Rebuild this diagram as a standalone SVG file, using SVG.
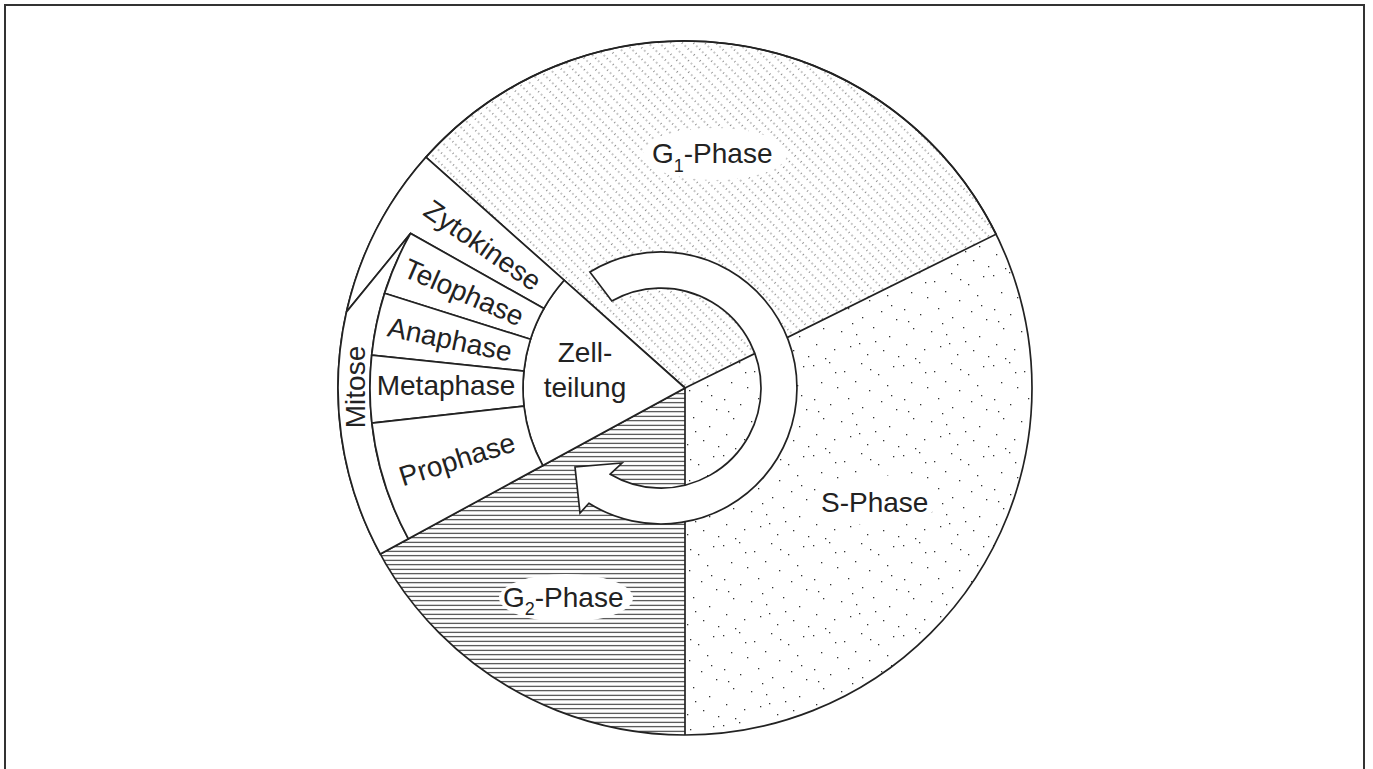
<svg xmlns="http://www.w3.org/2000/svg" width="1373" height="769" viewBox="0 0 1373 769">
<style>
.ln{fill:none;stroke:#222;stroke-width:1.7;stroke-linejoin:miter}
.wf{fill:#fff;stroke:#222;stroke-width:1.7}
.lbl{font-family:"Liberation Sans",Arial,sans-serif;font-size:28px;fill:#222}
.sub{font-size:18px}
.bg{fill:#fff;stroke:none}
</style>
<defs>
<pattern id="pG1" patternUnits="userSpaceOnUse" width="8" height="8.4" patternTransform="rotate(-45)">
<line x1="4" y1="0" x2="4" y2="8.4" stroke="#333" stroke-width="1.1" stroke-dasharray="1 3.2"/>
</pattern>
<pattern id="pG2" patternUnits="userSpaceOnUse" width="10" height="4.5">
<line x1="0" y1="2.25" x2="10" y2="2.25" stroke="#222" stroke-width="1"/>
</pattern>
<pattern id="pS" patternUnits="userSpaceOnUse" width="90" height="90">
<g fill="#333">
<rect x="3" y="5" width="1.3" height="1.3"/><rect x="19" y="2" width="1.3" height="1.3"/>
<rect x="34" y="11" width="1.3" height="1.3"/><rect x="51" y="3" width="1.3" height="1.3"/>
<rect x="68" y="14" width="1.3" height="1.3"/><rect x="83" y="6" width="1.3" height="1.3"/>
<rect x="11" y="22" width="1.3" height="1.3"/><rect x="27" y="27" width="1.3" height="1.3"/>
<rect x="45" y="21" width="1.3" height="1.3"/><rect x="59" y="30" width="1.3" height="1.3"/>
<rect x="77" y="25" width="1.3" height="1.3"/><rect x="4" y="39" width="1.3" height="1.3"/>
<rect x="20" y="44" width="1.3" height="1.3"/><rect x="38" y="38" width="1.3" height="1.3"/>
<rect x="52" y="47" width="1.3" height="1.3"/><rect x="71" y="41" width="1.3" height="1.3"/>
<rect x="86" y="49" width="1.3" height="1.3"/><rect x="13" y="58" width="1.3" height="1.3"/>
<rect x="31" y="61" width="1.3" height="1.3"/><rect x="46" y="64" width="1.3" height="1.3"/>
<rect x="63" y="57" width="1.3" height="1.3"/><rect x="79" y="66" width="1.3" height="1.3"/>
<rect x="6" y="74" width="1.3" height="1.3"/><rect x="24" y="79" width="1.3" height="1.3"/>
<rect x="40" y="76" width="1.3" height="1.3"/><rect x="57" y="84" width="1.3" height="1.3"/>
<rect x="73" y="80" width="1.3" height="1.3"/><rect x="88" y="86" width="1.3" height="1.3"/>
<rect x="15" y="88" width="1.3" height="1.3"/><rect x="49" y="73" width="1.3" height="1.3"/>
<rect x="65" y="71" width="1.3" height="1.3"/><rect x="8" y="51" width="1.3" height="1.3"/>
<rect x="42" y="53" width="1.3" height="1.3"/><rect x="81" y="35" width="1.3" height="1.3"/>
<rect x="25" y="12" width="1.3" height="1.3"/><rect x="60" y="9" width="1.3" height="1.3"/>
</g>
</pattern>
</defs>
<rect x="0" y="0" width="1373" height="769" fill="#fff"/>
<rect x="5" y="5" width="1359" height="800" fill="none" stroke="#333" stroke-width="2"/>

<g id="nodes">
<g id="g1-phase">
<path d="M685 388 L425.9 157.2 A347 347 0 0 1 996.1 234.2 Z" fill="url(#pG1)"/>
<ellipse class="bg" cx="715" cy="154" rx="72" ry="26"/>
</g>
<g id="s-phase">
<path d="M685 388 L996.1 234.2 A347 347 0 0 1 685 735 Z" fill="url(#pS)"/>
<ellipse class="bg" cx="876" cy="500" rx="64" ry="25"/>
</g>
<g id="g2-phase">
<path d="M685 388 L685 735 A347 347 0 0 1 380.3 554.1 Z" fill="url(#pG2)"/>
<ellipse class="bg" cx="566" cy="598" rx="67" ry="24"/>
</g>
<g id="outlines">
<path class="ln" d="M685 388 L425.9 157.2 A347 347 0 0 1 996.1 234.2 Z"/>
<path class="ln" d="M685 388 L685 735"/>
<path class="ln" d="M685 388 L380.3 554.1"/>
<circle class="ln" cx="685" cy="388" r="347" stroke-width="2.2"/>
</g>
<g id="zellteilung">
<path class="wf" d="M685 388 L564.1 280.2 A162 162 0 0 0 542.8 465.6 Z"/>
<text class="lbl" x="585" y="362" text-anchor="middle">Zell-</text>
<text class="lbl" x="585" y="397" text-anchor="middle">teilung</text>
</g>
<g id="zytokinese">
<path class="wf" d="M564.1 280.2 L425.9 157.2 A347 347 0 0 0 346.5 311.9 L410.6 233.4 L543.9 308.5 A162 162 0 0 1 564.1 280.2 Z"/>
<text class="lbl" text-anchor="middle" transform="translate(483,245) rotate(35)" y="10">Zytokinese</text>
</g>
<g id="mitose">
<path class="wf" d="M410.6 233.4 L346.5 311.9 A347 347 0 0 0 380.3 554.1 L408.4 538.8 A315 315 0 0 1 410.6 233.4 Z"/>
<text class="lbl" text-anchor="middle" transform="translate(355,387) rotate(-90)" y="10">Mitose</text>
</g>
<g id="telophase">
<path class="wf" d="M543.9 308.5 L410.6 233.4 A315 315 0 0 0 384.6 293.3 L530.5 339.3 A162 162 0 0 1 543.9 308.5 Z"/>
<text class="lbl" text-anchor="middle" transform="translate(464,292) rotate(23.5)" y="10">Telophase</text>
</g>
<g id="anaphase">
<path class="wf" d="M530.5 339.3 L384.6 293.3 A315 315 0 0 0 371.7 355.1 L523.9 371.1 A162 162 0 0 1 530.5 339.3 Z"/>
<text class="lbl" text-anchor="middle" transform="translate(450,339) rotate(11.75)" y="10">Anaphase</text>
</g>
<g id="metaphase">
<path class="wf" d="M523.9 371.1 L371.7 355.1 A315 315 0 0 0 371.9 423.1 L524.0 406.1 A162 162 0 0 1 523.9 371.1 Z"/>
<text class="lbl" text-anchor="middle" x="446" y="395">Metaphase</text>
</g>
<g id="prophase">
<path class="wf" d="M524.0 406.1 L371.9 423.1 A315 315 0 0 0 408.4 538.8 L542.8 465.6 A162 162 0 0 1 524.0 406.1 Z"/>
<text class="lbl" text-anchor="middle" transform="translate(457,459) rotate(-17.5)" y="10">Prophase</text>
</g>
<g id="phase-labels">
<text class="lbl" x="652" y="163">G<tspan class="sub" dy="9">1</tspan><tspan dy="-9">-Phase</tspan></text>
<text class="lbl" x="821" y="512">S-Phase</text>
<text class="lbl" x="503" y="607">G<tspan class="sub" dy="8">2</tspan><tspan dy="-8">-Phase</tspan></text>
</g>
</g>

<g id="connectors">
<path class="wf" stroke-width="2" d="M589.9 272.0 A136 136 0 1 1 588.9 503.3 L580 513 L575 467 L622 463 L610.2 474.2 A100 100 0 1 0 611.8 301.0 Z"/>
</g>
</svg>
